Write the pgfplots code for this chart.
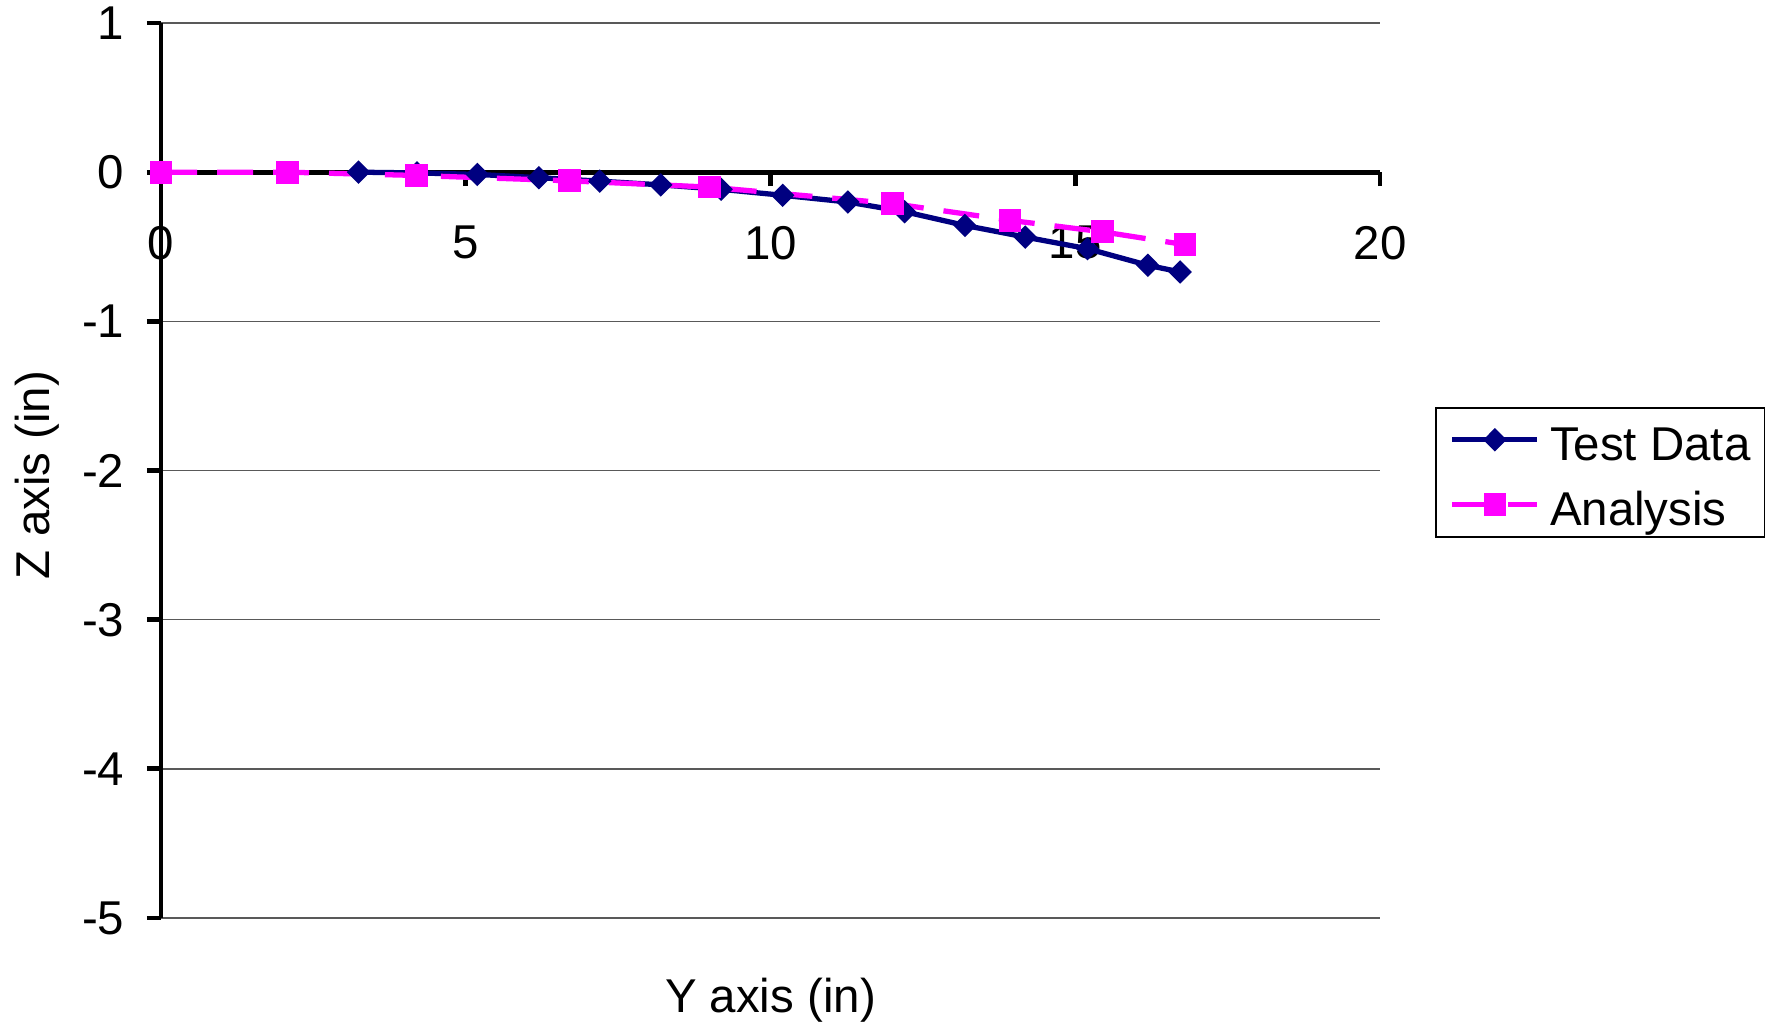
\documentclass[border=0pt]{standalone}
\usepackage{fontspec}
\setmainfont{Liberation Sans}
\usepackage{pgfplots}
\pgfplotsset{compat=1.18}
\definecolor{navy}{HTML}{000080}
\definecolor{mag}{HTML}{FF00FF}
\begin{document}
\begin{tikzpicture}
\path[use as bounding box] (0,0) rectangle (177.8mm,103mm);
\begin{axis}[
  at={(16.1mm,11.2mm)}, anchor=south west,
  scale only axis, width=121.9mm, height=89.5mm,
  xmin=0, xmax=20, ymin=-5, ymax=1,
  enlargelimits=false,
  axis lines=middle,
  axis line style={-, line width=1.4pt, black},
  hide obscured x ticks=false, hide obscured y ticks=false,
  xtick={0,5,10,15,20}, ytick={-5,-4,-3,-2,-1,0,1},
  tick align=outside,
  major tick length=1.4mm,
  tick style={line width=1.4pt, black},
  ymajorgrids,
  major grid style={line width=0.4pt, black!65},
  clip=false,
  /pgf/number format/assume math mode=true,
  ticklabel style={font=\fontsize{13.5}{16}\selectfont, inner sep=0pt},
  xticklabel style={anchor=north, yshift=-3.9mm},
  yticklabel style={anchor=east, xshift=-2.2mm},
  xlabel={Y axis (in)}, ylabel={Z axis (in)},
  label style={font=\fontsize{13.5}{16}\selectfont, inner sep=0pt},
  xlabel style={at={(axis description cs:0.5,-0.1061)}, anchor=base, rotate=0},
  ylabel style={at={(axis description cs:-0.0911,0.495)}, anchor=base, rotate=90},
  legend style={at={(axis description cs:1.045,0.571)}, anchor=north west,
    draw=black, line width=0.5pt, font=\fontsize{13.5}{16}\selectfont,
    inner xsep=1.4mm, inner ysep=1.15mm, row sep=2.4mm,
    nodes={inner sep=0pt, text height=4.1mm, text depth=0mm},
    /tikz/every odd column/.append style={column sep=1.0mm}},
  legend cell align=left,
  legend image code/.code={%
    \draw[mark repeat=2,mark phase=2,#1] plot coordinates {(0mm,0mm) (4.25mm,0mm) (8.5mm,0mm)};},
]
\addplot[navy, line width=1.5pt, mark=diamond*, mark size=1.05mm,
  mark options={solid, xscale=1.33, fill=navy, draw=navy, line width=0.5pt}]
coordinates {
(3.24,0) (4.2,-0.005) (5.19,-0.015) (6.2,-0.037) (7.2,-0.06) (8.2,-0.085)
(9.19,-0.115) (10.2,-0.155) (11.27,-0.2) (12.2,-0.265) (13.19,-0.357)
(14.18,-0.435) (15.2,-0.513) (16.19,-0.624) (16.72,-0.669)
};
\addlegendentry{Test Data}
\addplot[mag, line width=1.5pt, dash pattern=on 3.6mm off 2mm, mark=square*, mark size=1.05mm,
  mark options={solid, fill=mag, draw=mag, line width=0.5pt}]
coordinates {
(0,0) (2.07,0) (4.19,-0.022) (6.7,-0.058) (9.0,-0.1) (12.0,-0.21)
(13.93,-0.323) (15.45,-0.40) (16.8,-0.486)
};
\addlegendentry{Analysis}
\end{axis}
\end{tikzpicture}
\end{document}
